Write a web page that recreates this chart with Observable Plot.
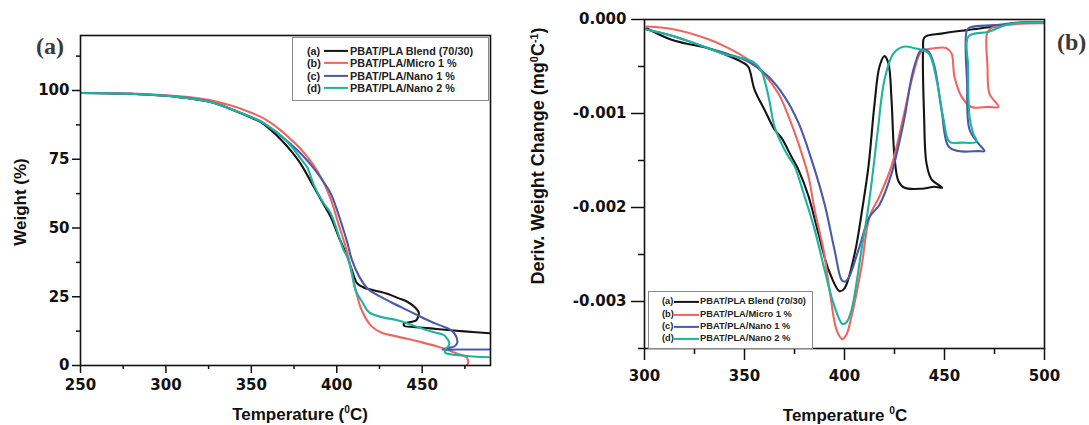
<!DOCTYPE html>
<html>
<head>
<meta charset="utf-8">
<script src="https://cdn.jsdelivr.net/npm/d3@7"></script>
<script src="https://cdn.jsdelivr.net/npm/@observablehq/plot@0.6"></script>
<style>
  html, body { margin:0; padding:0; background:#fff; }
  #wrap { position:relative; width:1089px; height:425px; overflow:hidden; background:#fff; font-family:"Liberation Sans", Arial, sans-serif; color:#111; }
  #wrap svg { position:absolute; top:0; }
  .lbl { position:absolute; font-weight:bold; white-space:nowrap; transform:translate(-50%,-50%); line-height:1; }
  .rot { transform:translate(-50%,-50%) rotate(-90deg); }
  .panel { position:absolute; font-family:"Liberation Serif","Times New Roman",serif; font-weight:bold; font-size:24px; color:#3a3a3a; line-height:1; }
  sup { font-size:0.6em; vertical-align:0.6em; line-height:0; }
  .legend { position:absolute; border:1px solid #8a8a8a; background:#fff; box-sizing:border-box; font-weight:bold; color:#222; }
  .legend span { position:absolute; white-space:nowrap; line-height:1; transform:translateY(-50%); }
  .legend .ln { height:2.2px; transform:translateY(-50%); }
</style>
</head>
<body>
<div id="wrap"></div>
<script>
// ---------- Series meta ----------
const seriesKeys   = ["(a)", "(b)", "(c)", "(d)"];
const seriesNames  = ["PBAT/PLA Blend (70/30)", "PBAT/PLA/Micro 1 %", "PBAT/PLA/Nano 1 %", "PBAT/PLA/Nano 2 %"];
const seriesColors = ["#141414", "#ee6660", "#4a5aa8", "#1fb29e"];

// ---------- Panel (a): TGA, [temperature °C, weight %] ----------
const tgaBlend = [[250,99.1],[279,98.8],[308,97.6],[325,96],[337.6,93.4],[348,90.6],[355.3,88.6],[361,85.8],[367,82.4],[373,78.2],[378.8,73.4],[386.7,64.8],[391.5,59.5],[396.5,54],[401,47],[406.3,39.4],[409,34.5],[412,29.8],[416,28.3],[422,27.3],[430,26],[436,24.5],[441.8,23],[446,21],[448,19.3],[447.5,17.5],[446.5,16.4],[443,15.8],[439.4,15.3],[439.5,14.4],[445,14],[455,13.5],[465,12.9],[474.7,12.4],[490,11.7]];
const tgaMicro1 = [[250,99.2],[279,98.9],[308,97.9],[325,96.6],[337.6,94.6],[348,92.4],[355.3,90.5],[361,88.4],[367,85.6],[373,82.3],[378.8,78.8],[386.7,72.6],[391.5,67.5],[396.5,60.5],[401,51.5],[406.3,40.7],[409,33],[411.5,26.5],[414,21],[420,14.5],[426,12],[435.7,10.5],[449.4,8.5],[461,6.5],[470.6,4.3],[475.9,3],[477,1.2],[475.5,-0.5]];
const tgaNano1 = [[250,99.1],[279,98.8],[308,97.6],[325,96],[337.6,93.4],[348,90.8],[355.3,88.8],[361,86.4],[367,83.6],[373,80.5],[378.8,77.2],[386.7,71.6],[391.5,67.5],[396.5,62.5],[401,55],[406.3,44.4],[409,38.2],[413,32.5],[418,28],[425,25.2],[431.8,23],[440,20.5],[447.6,18.2],[455,16],[461,14.5],[466,13.2],[469,11.6],[470.6,8.4],[469,7],[466,6.5],[462,5.8],[470,5.8],[490,5.8]];
const tgaNano2 = [[250,99.1],[279,98.8],[308,97.6],[325,96],[337.6,93.4],[348,90.8],[355.3,88.9],[361,86.6],[367,83.8],[373,80],[378,76],[381,73.5],[382.7,72.1],[386.7,65.5],[391.5,59.8],[396.5,55.3],[401,47.5],[404,42],[406.3,39.4],[409,33],[411,27.3],[415,23],[419,19.3],[427,17.5],[436,16.4],[445,14.5],[453.5,12.7],[460,11.6],[463,10.9],[466,8],[465,6.8],[464,6.2],[463.5,4.7],[470,3.8],[480,3.3],[490,3.0]];

// ---------- Panel (b): DTG, [temperature °C, deriv. weight change mg/°C] ----------
const dtgBlend = [[301,-0.000093],[313.5,-0.000216],[320,-0.000252],[331.8,-0.000305],[340,-0.00037],[348.5,-0.00045],[351.8,-0.0005],[355,-0.000745],[360,-0.00096],[365,-0.00117],[368.5,-0.00126],[373.5,-0.00146],[377,-0.0016],[382,-0.00188],[387,-0.00228],[392,-0.00266],[397.5,-0.00289],[400,-0.00286],[405,-0.0025],[409,-0.002],[412,-0.00156],[415,-0.0009],[417.5,-0.0005],[420,-0.00039],[422,-0.00047],[423.5,-0.00085],[425,-0.00146],[427,-0.00172],[430,-0.00179],[438.5,-0.0018],[445,-0.00178],[448.8,-0.00179],[443.5,-0.0017],[441,-0.00153],[439.8,-0.00103],[439.3,-0.00032],[440,-0.00019],[448.5,-0.00015],[462,-0.00011],[475,-0.000075],[485,-0.00004],[500,-0.00003]];
const dtgMicro1 = [[301,-0.000075],[315,-0.000106],[332,-0.00021],[342,-0.000305],[352,-0.00043],[360,-0.000585],[367,-0.00079],[372,-0.00103],[377,-0.00132],[382,-0.00167],[385,-0.00202],[389.5,-0.00245],[392.5,-0.00287],[396,-0.0033],[398.8,-0.0034],[401,-0.00335],[403.5,-0.00316],[408.5,-0.00263],[412.5,-0.0021],[417.5,-0.00188],[423.5,-0.00156],[429.5,-0.00103],[434.5,-0.00057],[438.5,-0.00034],[445,-0.000305],[451,-0.000305],[453.5,-0.00036],[455,-0.00061],[458.5,-0.00082],[463.5,-0.00093],[472,-0.00093],[477,-0.00093],[472.5,-0.00079],[471.5,-0.0005],[471.3,-0.000145],[473.5,-0.00009],[485,-0.00005],[500,-0.00004]];
const dtgNano1 = [[301,-0.000106],[315,-0.00018],[332,-0.000305],[342,-0.00037],[352,-0.00045],[362,-0.00061],[370,-0.00082],[377,-0.0011],[383.5,-0.00149],[390,-0.00196],[395,-0.00245],[398.5,-0.00277],[400,-0.00279],[402,-0.00275],[407,-0.00245],[412.5,-0.0021],[417.5,-0.00197],[423.5,-0.00164],[429.5,-0.0011],[434.5,-0.00053],[438.5,-0.00032],[442,-0.00034],[445,-0.0005],[448.5,-0.00096],[452,-0.00135],[457,-0.0014],[467,-0.0014],[470,-0.0014],[467,-0.00132],[462.5,-0.00117],[461.3,-0.00068],[461.3,-0.00011],[463.5,-0.00008],[475,-0.00006],[488.5,-0.00003],[500,-0.00003]];
const dtgNano2 = [[301,-0.000106],[315,-0.00018],[332,-0.000305],[340,-0.00037],[348.5,-0.00041],[355,-0.00046],[358.5,-0.00055],[362,-0.00082],[365,-0.00114],[368.5,-0.00132],[372,-0.00146],[375,-0.00156],[380,-0.00188],[385,-0.00223],[390,-0.00266],[394.5,-0.00302],[399,-0.00324],[401,-0.00322],[403.5,-0.00309],[408.5,-0.00245],[412.5,-0.00191],[416.5,-0.00121],[420,-0.00064],[424.5,-0.00036],[429.5,-0.00029],[435,-0.000305],[442,-0.00036],[446,-0.00064],[449.5,-0.00106],[452.5,-0.0013],[458.5,-0.00131],[466,-0.0013],[464.3,-0.00121],[462.5,-0.00103],[461.8,-0.0005],[462,-0.00018],[472,-0.00013],[482,-0.00005],[500,-0.00003]];

// ---------- Tick values ----------
const tgaXTicks = [250, 300, 350, 400, 450];
const tgaXMinor = [275, 325, 375, 425, 475];
const tgaYTicks = [0, 25, 50, 75, 100];
const tgaYMinor = [12.5, 37.5, 62.5, 87.5, 112.5];
const dtgXTicks = [300, 350, 400, 450, 500];
const dtgXMinor = [325, 375, 425, 475];
const dtgYTicks = [0, -0.001, -0.002, -0.003];
const dtgYMinor = [-0.0005, -0.0015, -0.0025, -0.0035];

const tgaSeries = [tgaBlend, tgaMicro1, tgaNano1, tgaNano2];
const dtgSeries = [dtgBlend, dtgMicro1, dtgNano1, dtgNano2];

const tickFont = {fontFamily:"DejaVu Sans", fontWeight:"bold", fontSize:"15px", color:"#111", background:"transparent", overflow:"visible"};

function lines(list) {
  return list.map((data, i) => Plot.line(data, {
    x: d => d[0], y: d => d[1], stroke: seriesColors[i], strokeWidth: 2.1,
    curve: "catmull-rom", clip: true
  }));
}

const left = Plot.plot({
  width: 520, height: 425,
  marginLeft: 80, marginRight: 30, marginTop: 35, marginBottom: 60,
  style: tickFont,
  x: {domain: [250, 490]},
  y: {domain: [0, 120]},
  marks: [
    ...lines(tgaSeries),
    Plot.axisX({ticks: tgaXTicks, tickSize: 8, tickPadding: 6, label: null, strokeWidth: 1.5, tickFormat: d => String(d)}),
    Plot.axisX({ticks: tgaXMinor, tickSize: 4, label: null, strokeWidth: 1.5, tickFormat: () => ""}),
    Plot.axisY({ticks: tgaYTicks, tickSize: 8, tickPadding: 3, label: null, strokeWidth: 1.5, tickFormat: d => String(d)}),
    Plot.axisY({ticks: tgaYMinor, tickSize: 4, label: null, strokeWidth: 1.5, tickFormat: () => ""}),
    Plot.frame({stroke: "#111", strokeWidth: 1.6})
  ]
});
left.style.left = "0px";

const right = Plot.plot({
  width: 569, height: 425,
  marginLeft: 124, marginRight: 45, marginTop: 19, marginBottom: 77,
  style: tickFont,
  x: {domain: [300, 500]},
  y: {domain: [-0.0035, 0]},
  marks: [
    ...lines(dtgSeries),
    Plot.axisX({ticks: dtgXTicks, tickSize: 12, tickPadding: 10, label: null, strokeWidth: 1.5, tickFormat: d => String(d)}),
    Plot.axisX({ticks: dtgXMinor, tickSize: 6, label: null, strokeWidth: 1.5, tickFormat: () => ""}),
    Plot.axisY({ticks: dtgYTicks, tickSize: 13, tickPadding: 5, label: null, strokeWidth: 1.5, tickFormat: d => (d === 0 ? 0 : d).toFixed(3)}),
    Plot.axisY({ticks: dtgYMinor, tickSize: 6, label: null, strokeWidth: 1.5, tickFormat: () => ""}),
    Plot.frame({stroke: "#111", strokeWidth: 1.6})
  ]
});
right.style.left = "520px";

const wrap = document.getElementById("wrap");
wrap.appendChild(left);
wrap.appendChild(right);

function addHTML(html) { wrap.insertAdjacentHTML("beforeend", html); }

// panel letters
addHTML('<div class="panel" style="left:36px;top:34px;">(a)</div>');
addHTML('<div class="panel" style="left:1057px;top:30px;">(b)</div>');

// axis titles
addHTML('<div class="lbl rot" style="left:20px;top:202px;font-size:17px;">Weight (%)</div>');
addHTML('<div class="lbl" style="left:300px;top:414px;font-size:17px;">Temperature (<sup>0</sup>C)</div>');
addHTML('<div class="lbl rot" style="left:538px;top:156px;font-size:18px;">Deriv. Weight Change (mg<sup>0</sup>C<sup>-1</sup>)</div>');
addHTML('<div class="lbl" style="left:845px;top:415px;font-size:17px;">Temperature <sup>0</sup>C</div>');

// legends
function legend(box) {
  let h = `<div class="legend" style="left:${box.x}px;top:${box.y}px;width:${box.w}px;height:${box.h}px;font-size:${box.fs}px;">`;
  seriesNames.forEach((name, i) => {
    const cy = box.rows[i];
    h += `<span style="left:${box.kx}px;top:${cy}px;">${seriesKeys[i]}</span>`;
    h += `<span class="ln" style="left:${box.lx}px;top:${cy}px;width:${box.lw}px;background:${seriesColors[i]};"></span>`;
    h += `<span style="left:${box.tx}px;top:${cy}px;">${name}</span>`;
  });
  h += '</div>';
  addHTML(h);
}
legend({x:292, y:37, w:197, h:64, fs:10.8, rows:[13,25,38,50], kx:14, lx:31, lw:24, tx:57});
legend({x:648, y:291, w:165, h:58, fs:9.3, rows:[10,23,35,47], kx:13, lx:25, lw:25, tx:51});
</script>
</body>
</html>
